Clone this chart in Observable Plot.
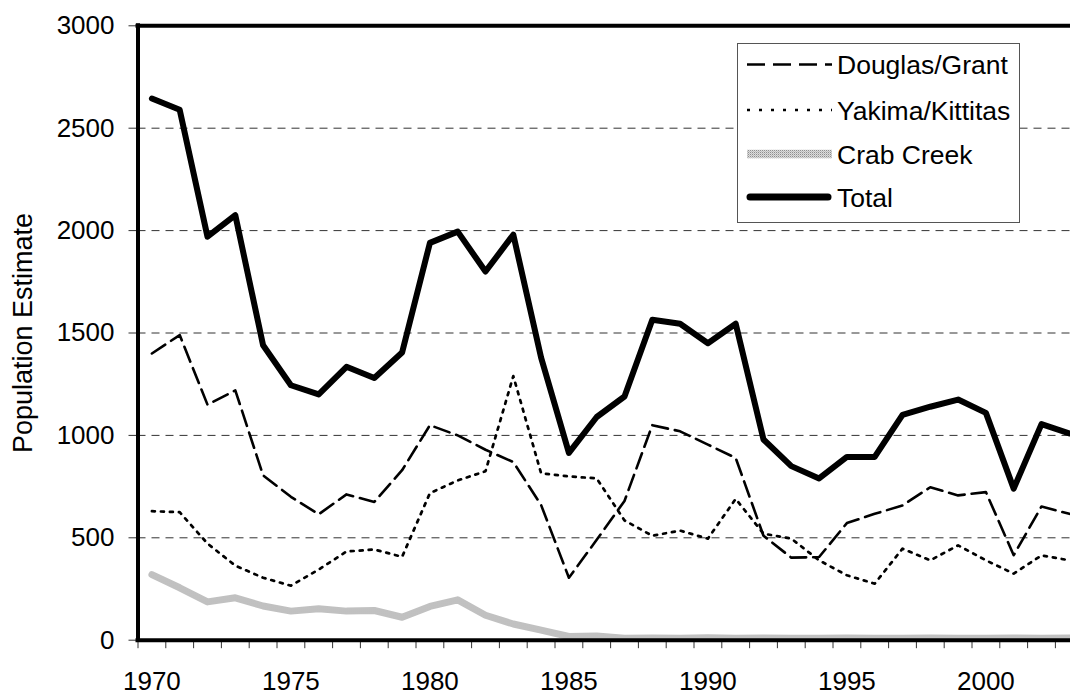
<!DOCTYPE html>
<html>
<head>
<meta charset="utf-8">
<script src="https://cdn.jsdelivr.net/npm/d3@7"></script>
<script src="https://cdn.jsdelivr.net/npm/@observablehq/plot@0.6"></script>
<style>
  html, body { margin: 0; padding: 0; background: white; overflow: hidden; }
  #wrap { position: relative; width: 1070px; height: 696px; font-family: "Liberation Sans", Arial, sans-serif; }
  #legend { position: absolute; left: 736.5px; top: 43.3px; width: 283.5px; height: 179.4px; box-sizing: border-box; border: 1px solid #555; background: white; }
  #legend svg { position: absolute; left: 0; top: 0; }
</style>
</head>
<body>
<div id="wrap"></div>
<script>
// ---- data ----
const years = [1970, 1971, 1972, 1973, 1974, 1975, 1976, 1977, 1978, 1979,
               1980, 1981, 1982, 1983, 1984, 1985, 1986, 1987, 1988, 1989,
               1990, 1991, 1992, 1993, 1994, 1995, 1996, 1997, 1998, 1999,
               2000, 2001, 2002, 2003];
const douglasGrant = [1400, 1490, 1150, 1220, 805, 700, 615, 712, 675, 830,
                      1050, 1000, 930, 870, 660, 305, 490, 680, 1050, 1020,
                      955, 890, 510, 403, 406, 572, 617, 658, 747, 707,
                      723, 415, 653, 617];
const yakimaKittitas = [630, 625, 472, 364, 305, 266, 345, 433, 443, 407,
                        718, 780, 825, 1290, 815, 800, 790, 585, 510, 535,
                        496, 690, 520, 496, 390, 317, 276, 447, 390, 463,
                        390, 325, 414, 390];
const crabCreek = [320, 256, 187, 207, 167, 142, 154, 142, 145, 112,
                   165, 197, 122, 79, 49, 18, 20, 10, 11, 10,
                   12, 10, 11, 10, 10, 11, 10, 10, 11, 10,
                   10, 11, 10, 11];
const total = [2645, 2590, 1970, 2075, 1440, 1245, 1200, 1335, 1280, 1405,
               1940, 1995, 1800, 1980, 1380, 915, 1090, 1190, 1565, 1545,
               1450, 1545, 980, 850, 790, 895, 895, 1100, 1140, 1175,
               1110, 740, 1055, 1010];
const seriesNames = ["Douglas/Grant", "Yakima/Kittitas", "Crab Creek", "Total"];
const yTicks = [0, 500, 1000, 1500, 2000, 2500, 3000];
const gridValues = [500, 1000, 1500, 2000, 2500];
const xLabelYears = [1970, 1975, 1980, 1985, 1990, 1995, 2000];
const yTitle = "Population Estimate";

// ---- table for Plot ----
const rows = years.map((yr, i) => ({
  year: yr,
  douglas: douglasGrant[i],
  yakima: yakimaKittitas[i],
  crab: crabCreek[i],
  total: total[i]
}));
const bounds = years.map(y => y - 0.5).concat([years[years.length - 1] + 0.5]);

const CRAB_PLACEHOLDER = "#b7b7b6";

const chart = Plot.plot({
  width: 1070,
  height: 696,
  marginLeft: 137.5,
  marginRight: 0,
  marginTop: 25.3,
  marginBottom: 56.3,
  style: { fontFamily: "'Liberation Sans', Arial, sans-serif", fontSize: "26px", background: "white", overflow: "hidden", color: "black" },
  x: { domain: [bounds[0], bounds[bounds.length - 1]], range: [137.5, 137.5 + 34 * 27.8], label: null },
  y: { domain: [0, 3000], label: null },
  marks: [
    Plot.ruleY(gridValues, { stroke: "#333", strokeWidth: 1, strokeDasharray: "8,6" }),
    Plot.line(rows, { x: "year", y: "crab", stroke: CRAB_PLACEHOLDER, strokeWidth: 7, strokeLinejoin: "round" }),
    Plot.line(rows, { x: "year", y: "yakima", stroke: "black", strokeWidth: 2.7, strokeDasharray: "3,6" }),
    Plot.line(rows, { x: "year", y: "douglas", stroke: "black", strokeWidth: 2.6, strokeDasharray: "16,7" }),
    Plot.line(rows, { x: "year", y: "total", stroke: "black", strokeWidth: 6, strokeLinejoin: "round", strokeLinecap: "round" }),
    Plot.axisY({ ticks: yTicks, tickSize: 9, tickPadding: 14.5, tickFormat: "d", fontSize: 26, label: null, stroke: "#333" }),
    Plot.axisX({ ticks: bounds, tickSize: 8.5, tickFormat: () => "", label: null, stroke: "#333" }),
    Plot.axisX({ ticks: xLabelYears, tickSize: 0, tickPadding: 31, tickFormat: "d", fontSize: 26, label: null }),
    Plot.ruleX([bounds[0]], { stroke: "black", strokeWidth: 4, strokeLinecap: "square" }),
    Plot.ruleY([0], { stroke: "black", strokeWidth: 4, strokeLinecap: "square" }),
    Plot.ruleY([3000], { stroke: "black", strokeWidth: 4, strokeLinecap: "square" }),
    Plot.text([yTitle], { text: d => d, frameAnchor: "left", dx: -115, rotate: -90, fontSize: 27, textAnchor: "middle", fill: "black" })
  ]
});

// textured gray stroke for Crab Creek
function addPattern(svgSel, id) {
  const defs = svgSel.insert("defs", ":first-child");
  const p = defs.append("pattern").attr("id", id).attr("width", 2).attr("height", 2).attr("patternUnits", "userSpaceOnUse");
  p.append("rect").attr("width", 2).attr("height", 2).attr("fill", "#dcdcdc");
  p.append("rect").attr("width", 1).attr("height", 1).attr("fill", "#8e8e8e");
  p.append("rect").attr("x", 1).attr("y", 1).attr("width", 1).attr("height", 1).attr("fill", "#bcbcbc");
}
const svgSel = d3.select(chart);
addPattern(svgSel, "crabPat");
svgSel.selectAll(`[stroke="${CRAB_PLACEHOLDER}"]`).attr("stroke", "url(#crabPat)");

const wrap = document.getElementById("wrap");
wrap.appendChild(chart);

// ---- legend (inside plot area, top right) ----
const legend = document.createElement("div");
legend.id = "legend";
wrap.appendChild(legend);
const lw = 283.5, lh = 179.4;
const lsvg = d3.select(legend).append("svg").attr("width", lw).attr("height", lh)
  .style("font-family", "'Liberation Sans', Arial, sans-serif");
addPattern(lsvg, "crabPatLegend");
const rowY = [20.5, 66, 110, 153];
const styles = [
  { stroke: "black", width: 2.4, dash: "18,8", cap: "butt" },
  { stroke: "black", width: 2.4, dash: "3,9", cap: "butt" },
  { stroke: "url(#crabPatLegend)", width: 8.5, dash: null, cap: "butt" },
  { stroke: "black", width: 7, dash: null, cap: "round" }
];
seriesNames.forEach((name, i) => {
  const s = styles[i];
  const ln = lsvg.append("line")
    .attr("x1", i === 3 ? 12 : 9).attr("x2", i === 3 ? 90 : 94)
    .attr("y1", rowY[i]).attr("y2", rowY[i])
    .attr("stroke", s.stroke).attr("stroke-width", s.width)
    .attr("stroke-linecap", s.cap);
  if (s.dash) ln.attr("stroke-dasharray", s.dash);
  lsvg.append("text")
    .attr("x", 99)
    .attr("y", rowY[i])
    .attr("dy", "0.36em")
    .attr("font-size", 26.5)
    .attr("fill", "black")
    .text(name);
});
</script>
</body>
</html>
